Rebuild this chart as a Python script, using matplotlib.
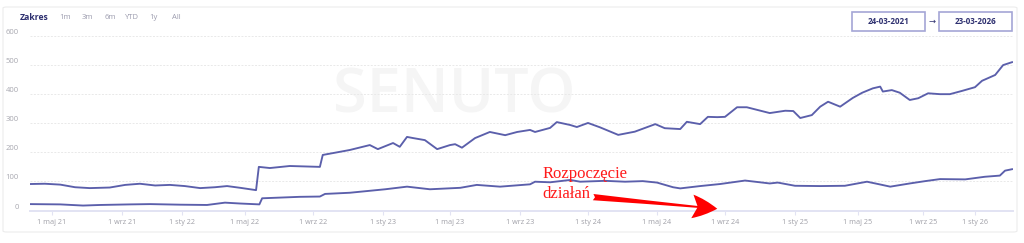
import numpy as np
import pandas as pd
import matplotlib
matplotlib.use('Agg')
import matplotlib.pyplot as plt
import matplotlib.dates as mdates
import matplotlib.transforms as mtransforms
from matplotlib.patches import Rectangle, FancyBboxPatch

# data: days counted from the first day of the range
start_date = '2021-03-24'
end_date = '2026-03-23'

upper_days = [0, 26, 53, 79, 105, 140, 168, 198, 229, 259, 289, 318, 346, 369, 394,
              423, 428, 448, 484, 538, 543, 568, 590, 625, 639, 666, 678, 691, 702, 723,
              745, 768, 777, 789, 812, 838, 865, 886, 909, 918, 945, 957, 981, 993, 1013,
              1034, 1066, 1095, 1131, 1148, 1176, 1188, 1212, 1226, 1243, 1257, 1278, 1295,
              1335, 1362, 1376, 1389, 1411, 1427, 1442, 1465, 1489, 1507, 1527, 1541, 1546,
              1563, 1578, 1597, 1613, 1634, 1662, 1685, 1713, 1744, 1759, 1787, 1804, 1823]
upper_vals = [91, 92, 89, 80, 77, 79, 88, 92, 86, 88, 84, 77, 80, 84, 78,
              70, 150, 146, 153, 150, 191, 200, 208, 225, 211, 232, 219, 253, 249, 242,
              211, 225, 228, 216, 249, 270, 259, 270, 277, 270, 284, 304, 294, 287, 301,
              286, 260, 271, 297, 283, 280, 305, 297, 322, 321, 322, 355, 355,
              335, 343, 342, 318, 328, 357, 374, 357, 387, 405, 420, 426, 409,
              414, 405, 380, 386, 403, 400, 400, 411, 424, 446, 466, 500, 510]

lower_days = [0, 53, 93, 123, 178, 219, 280, 331, 365, 394, 429, 434, 502, 538, 547,
              590, 652, 691, 732, 786, 815, 856, 909, 918, 945, 981, 999, 1043, 1078, 1109,
              1134, 1163, 1176, 1212, 1248, 1292, 1335, 1349, 1379, 1427, 1474, 1516, 1537,
              1560, 1597, 1627, 1662, 1721, 1765, 1797, 1808, 1823]
lower_vals = [22, 21, 17, 19, 21, 22, 20, 19, 27, 24, 21, 42, 47, 48, 57,
              61, 73, 82, 73, 78, 88, 82, 90, 99, 97, 105, 99, 102, 99, 101,
              96, 80, 76, 84, 91, 103, 93, 96, 85, 84, 85, 99, 91,
              82, 93, 101, 108, 107, 116, 120, 137, 142]

tick_dates = ['2021-05-01', '2021-09-01', '2022-01-01', '2022-05-01', '2022-09-01',
              '2023-01-01', '2023-05-01', '2023-09-01', '2024-01-01', '2024-05-01',
              '2024-09-01', '2025-01-01', '2025-05-01', '2025-09-01', '2026-01-01']
tick_labels = ['1 maj 21', '1 wrz 21', '1 sty 22', '1 maj 22', '1 wrz 22',
               '1 sty 23', '1 maj 23', '1 wrz 23', '1 sty 24', '1 maj 24',
               '1 wrz 24', '1 sty 25', '1 maj 25', '1 wrz 25', '1 sty 26']
y_ticks = [0, 100, 200, 300, 400, 500, 600]

# the source chart's time axis is not evenly spaced: where each date sits along it
scale_days = [0, 38, 161, 283, 403, 526, 648, 768, 891, 1013, 1134, 1257, 1379,
              1499, 1622, 1744, 1825]
scale_pos = [0, 21.7, 91.7, 151.7, 215, 283, 353, 420, 490, 558, 627, 695, 765,
             828, 893, 945, 983]

range_buttons = ['1m', '3m', '6m', 'YTD', '1y', 'All']
note_text = 'Rozpoczęcie\ndziałań'
note_date, note_value = '2023-10-11', 153
arrow_from = ('2024-01-10', 46)
arrow_to = ('2024-08-18', 6)

line_color = '#5b5fab'
navy = '#2e3070'
grey = '#9c9cae'

plt.rcParams['font.family'] = ['Open Sans', 'DejaVu Sans']

start = pd.Timestamp(start_date)
start_num = mdates.date2num(start)
upper_x = start + pd.to_timedelta(upper_days, unit='D')
lower_x = start + pd.to_timedelta(lower_days, unit='D')


def interp_lin(x, xp, fp):
    x = np.asarray(x, dtype=float)
    y = np.interp(x, xp, fp)
    lo_slope = (fp[1] - fp[0]) / (xp[1] - xp[0])
    hi_slope = (fp[-1] - fp[-2]) / (xp[-1] - xp[-2])
    y = np.where(x < xp[0], fp[0] + (x - xp[0]) * lo_slope, y)
    y = np.where(x > xp[-1], fp[-1] + (x - xp[-1]) * hi_slope, y)
    return y


def fwd(x):
    return interp_lin(np.asarray(x, dtype=float) - start_num, scale_days, scale_pos)


def inv(p):
    return interp_lin(p, scale_pos, scale_days) + start_num


fig = plt.figure(figsize=(10.24, 2.43), dpi=100)

# card around the whole widget
card = FancyBboxPatch((3 / 1024, 11 / 243), 1014 / 1024, 225 / 243,
                      boxstyle='round,pad=0,rounding_size=0.004',
                      transform=fig.transFigure, facecolor='none',
                      edgecolor='#ececec', lw=0.8, zorder=0)
fig.patches.append(card)

ax = fig.add_axes([30 / 1024, 1 - 210.5 / 243, 983 / 1024, 174.5 / 243])
ax.set_facecolor('none')

# watermark
ax.text(0.432, 0.655, 'SENUTO', transform=ax.transAxes, fontsize=44, fontweight='semibold',
        color='#f5f5f5', ha='center', va='center', family=['Open Sans', 'DejaVu Sans'],
        zorder=0)

ax.plot(upper_x, upper_vals, color=line_color, lw=1.35, zorder=3)
ax.plot(lower_x, lower_vals, color=line_color, lw=1.35, zorder=3)

ax.set_xscale('function', functions=(fwd, inv))
ax.set_xlim(mdates.date2num(pd.Timestamp(start_date)), mdates.date2num(pd.Timestamp(end_date)))
ax.set_ylim(0, 600)

ax.set_yticks(y_ticks)
ax.set_yticklabels([str(v) for v in y_ticks])
ax.tick_params(axis='y', length=0, pad=8, labelsize=5.5, labelcolor='#a8a8b0')
offset = mtransforms.ScaledTranslation(0, 3.2 / 72, fig.dpi_scale_trans)
for lab in ax.get_yticklabels():
    lab.set_transform(lab.get_transform() + offset)

ax.set_xticks(mdates.date2num(pd.to_datetime(tick_dates)))
ax.set_xticklabels(tick_labels)
ax.xaxis.set_minor_locator(matplotlib.ticker.NullLocator())
ax.tick_params(axis='x', length=3, width=0.8, color='#e2e3f3', pad=3,
               labelsize=5.2, labelcolor='#a0a0a8')

for v in y_ticks[1:]:
    ax.axhline(v, color='#e9e9e9', lw=0.7, ls=(0, (2, 1.5)), zorder=1)

for side in ['top', 'right', 'left']:
    ax.spines[side].set_visible(False)
ax.spines['bottom'].set_color('#e2e3f3')
ax.spines['bottom'].set_linewidth(1.4)

# annotation
ax.text(mdates.date2num(pd.Timestamp(note_date)), note_value, note_text, color='#ff1a1a',
        fontsize=12, family=['Liberation Serif', 'DejaVu Serif'], va='top', ha='left',
        linespacing=1.32, zorder=5)
ax.annotate('', xy=(mdates.date2num(pd.Timestamp(arrow_to[0])), arrow_to[1]),
            xytext=(mdates.date2num(pd.Timestamp(arrow_from[0])), arrow_from[1]),
            arrowprops=dict(arrowstyle='fancy,head_length=1.8,head_width=1.7,tail_width=0.45',
                            color='#ff0000', lw=0, shrinkA=0, shrinkB=0),
            annotation_clip=False, zorder=5)

# top controls
fig.text(20 / 1024, 1 - 17.5 / 243, 'Zakres', fontsize=6.2, fontweight='bold',
         color=navy, va='center', ha='left')
for lab, xc in zip(range_buttons, [65, 87, 110, 132, 153, 176]):
    fig.text(xc / 1024, 1 - 17.5 / 243, lab, fontsize=5.5, color=grey,
             va='center', ha='center')

for (x0, x1), lab in zip([(852, 925), (939, 1012)], ['24-03-2021', '23-03-2026']):
    fig.patches.append(Rectangle((x0 / 1024, 1 - 31 / 243), (x1 - x0) / 1024, 19 / 243,
                                 transform=fig.transFigure, facecolor='white',
                                 edgecolor='#a4a6d6', lw=1.2))
    fig.text((x0 + x1) / 2 / 1024, 1 - 21.5 / 243, lab, fontsize=5.8, fontweight='bold',
             color=navy, va='center', ha='center')
fig.text(932 / 1024, 1 - 21.5 / 243, '→', fontsize=6, color=navy,
         va='center', ha='center', family='DejaVu Sans')

fig.savefig('out.png', dpi=100, facecolor='white')
